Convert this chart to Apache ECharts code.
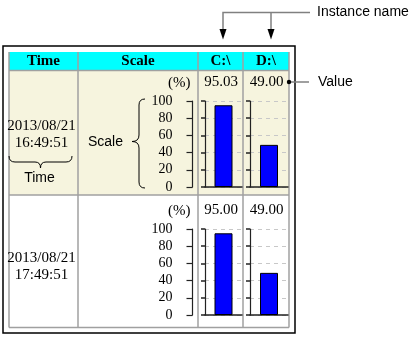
<!DOCTYPE html>
<html>
<head>
<meta charset="utf-8">
<style>
  html, body { margin: 0; padding: 0; background: #ffffff; }
  #chart { width: 413px; height: 337px; }
</style>
<script src="https://cdn.jsdelivr.net/npm/echarts@6/dist/echarts.min.js"></script>
</head>
<body>
<div id="chart"></div>
<script>
// Column headers and per-instance readings
const headers = ['Time', 'Scale'];
const instances = ['C:\\', 'D:\\'];
const dates = ['2013/08/21', '2013/08/21'];
const clocks = ['16:49:51', '17:49:51'];
const usageRow1 = [95.03, 49.00];
const usageRow2 = [95.00, 49.00];
const rows = [usageRow1, usageRow2];
const scaleUnit = '(%)';
const scaleMin = 0;
const scaleMax = 100;
const scaleStep = 20;

const chart = echarts.init(document.getElementById('chart'), null, { renderer: 'canvas' });

const serif = '"Liberation Serif", "Times New Roman", serif';
const sans = '"Liberation Sans", Arial, sans-serif';

// Table layout
const colX = [9, 78, 198, 243, 289];
const headerTop = 52, headerBottom = 70.5;
const rowBounds = [[70.5, 195], [195, 327.5]];
const axisTop = [101, 229];
const axisH = 86;
const barCols = [[205, 37], [250, 38]];

const grids = [], xAxes = [], yAxes = [], series = [];

function addGrid(left, top, width, height) {
  grids.push({ left: left, top: top, width: width, height: height, containLabel: false });
  return grids.length - 1;
}

rows.forEach(function (vals, r) {
  // Scale column axis with tick labels
  const gi = addGrid(192.5, axisTop[r], 1, axisH);
  xAxes.push({ gridIndex: gi, type: 'value', show: false, min: 0, max: 1 });
  yAxes.push({
    gridIndex: gi, type: 'value', min: scaleMin, max: scaleMax, interval: scaleStep,
    position: 'left',
    axisLine: { show: true, lineStyle: { color: '#222', width: 1.2 } },
    axisTick: { show: true, inside: false, length: 6, lineStyle: { color: '#222', width: 1.2 } },
    axisLabel: { show: true, margin: 20, color: '#000', fontFamily: serif, fontSize: 14 },
    splitLine: { show: false }
  });
  series.push({
    type: 'scatter', xAxisIndex: xAxes.length - 1, yAxisIndex: yAxes.length - 1,
    data: [], silent: true
  });

  // One bar chart per instance
  vals.forEach(function (v, c) {
    const g = addGrid(barCols[c][0], axisTop[r], barCols[c][1], axisH);
    xAxes.push({
      gridIndex: g, type: 'category', data: [instances[c]],
      axisLine: { show: true, lineStyle: { color: '#222', width: 1.5 } },
      axisTick: { show: false }, axisLabel: { show: false }
    });
    yAxes.push({
      gridIndex: g, type: 'value', min: scaleMin, max: scaleMax, interval: scaleStep,
      axisLine: { show: true, lineStyle: { color: '#222', width: 1.2 } },
      axisTick: { show: true, length: 4, lineStyle: { color: '#222', width: 1.5 } },
      axisLabel: { show: false },
      splitLine: { show: true, lineStyle: { color: '#c8c8c8', type: [4, 4], width: 1 } }
    });
    series.push({
      type: 'bar', xAxisIndex: xAxes.length - 1, yAxisIndex: yAxes.length - 1,
      data: [v], barWidth: 18, silent: true,
      itemStyle: { color: '#0000ff', borderColor: '#000', borderWidth: 1 }
    });
  });
});

// Table frame, headers and annotations
const graphics = [];
graphics.push({ type: 'rect', shape: { x: 3, y: 46, width: 292, height: 287 },
  style: { fill: '#fff', stroke: '#000', lineWidth: 1.5 }, z: -10 });
graphics.push({ type: 'rect', shape: { x: colX[0], y: headerTop, width: colX[4] - colX[0], height: headerBottom - headerTop },
  style: { fill: '#00ffff' }, z: -9 });
graphics.push({ type: 'rect', shape: { x: colX[0], y: rowBounds[0][0], width: colX[4] - colX[0], height: rowBounds[0][1] - rowBounds[0][0] },
  style: { fill: '#f6f4de' }, z: -9 });

// grid lines of the table
[headerBottom, rowBounds[0][1], rowBounds[1][1]].forEach(function (y) {
  graphics.push({ type: 'line', shape: { x1: colX[0], y1: y, x2: colX[4], y2: y },
    style: { stroke: '#a0a0a0', lineWidth: 1.5 }, z: -8 });
});
colX.forEach(function (x) {
  graphics.push({ type: 'line', shape: { x1: x, y1: headerTop, x2: x, y2: rowBounds[1][1] },
    style: { stroke: '#a0a0a0', lineWidth: 1.5 }, z: -8 });
});

const headerLabels = headers.concat(instances);
headerLabels.forEach(function (h, i) {
  graphics.push({ type: 'text', x: (colX[i] + colX[i + 1]) / 2, y: 61.5,
    style: { text: h, fill: '#000', font: 'bold 15px ' + serif, align: 'center', verticalAlign: 'middle' } });
});

rows.forEach(function (vals, r) {
  graphics.push({ type: 'text', x: 190.5, y: axisTop[r] - 18,
    style: { text: scaleUnit, fill: '#000', font: '15px ' + serif, align: 'right', verticalAlign: 'middle' } });
  vals.forEach(function (v, c) {
    graphics.push({ type: 'text', x: (colX[c + 2] + colX[c + 3]) / 2 + 0.5, y: axisTop[r] - 19,
      style: { text: v.toFixed(2), fill: '#000', font: '15px ' + serif, align: 'center', verticalAlign: 'middle' } });
  });
  const cy = r === 0 ? 126 : 258;
  graphics.push({ type: 'text', x: 41.5, y: cy,
    style: { text: dates[r], fill: '#000', font: '15px ' + serif, align: 'center', verticalAlign: 'middle' } });
  graphics.push({ type: 'text', x: 41.5, y: cy + 17,
    style: { text: clocks[r], fill: '#000', font: '15px ' + serif, align: 'center', verticalAlign: 'middle' } });
});

// curly brace made of quadratic curves and straight runs
function curve(x1, y1, cx, cy, x2, y2) {
  graphics.push({ type: 'bezierCurve', shape: { x1: x1, y1: y1, cpx1: cx, cpy1: cy, x2: x2, y2: y2 },
    style: { fill: null, stroke: '#000', lineWidth: 1 } });
}
function seg(x1, y1, x2, y2) {
  graphics.push({ type: 'line', shape: { x1: x1, y1: y1, x2: x2, y2: y2 },
    style: { stroke: '#000', lineWidth: 1 } });
}

// brace under the time stamp
curve(9, 156, 9, 162, 15, 162);
seg(15, 162, 35, 162);
curve(35, 162, 40.5, 162, 40.5, 168);
curve(40.5, 168, 40.5, 162, 46, 162);
seg(46, 162, 66, 162);
curve(66, 162, 72, 162, 72, 156);
graphics.push({ type: 'text', x: 39.5, y: 178.5,
  style: { text: 'Time', fill: '#000', font: '14px ' + sans, align: 'center', verticalAlign: 'middle' } });

// brace beside the scale
curve(145, 99, 139, 99, 139, 105);
seg(139, 105, 139, 135);
curve(139, 135, 139, 141.5, 132, 141.5);
curve(132, 141.5, 139, 141.5, 139, 148);
seg(139, 148, 139, 182);
curve(139, 182, 139, 188, 145, 188);
graphics.push({ type: 'text', x: 105.5, y: 142,
  style: { text: 'Scale', fill: '#000', font: '14px ' + sans, align: 'center', verticalAlign: 'middle' } });

// instance name callout
graphics.push({ type: 'polyline', shape: { points: [[223, 30], [223, 12.5], [310, 12.5]] },
  style: { fill: null, stroke: '#808080', lineWidth: 1.5 } });
graphics.push({ type: 'line', shape: { x1: 271, y1: 12.5, x2: 271, y2: 30 },
  style: { stroke: '#808080', lineWidth: 1.5 } });
[223, 271].forEach(function (x) {
  graphics.push({ type: 'polygon', shape: { points: [[x - 3.5, 29], [x + 3.5, 29], [x, 39.5]] },
    style: { fill: '#000' } });
});
graphics.push({ type: 'text', x: 317, y: 12.5,
  style: { text: 'Instance name', fill: '#000', font: '14px ' + sans, align: 'left', verticalAlign: 'middle' } });

// value callout
graphics.push({ type: 'line', shape: { x1: 289, y1: 82, x2: 309, y2: 82 },
  style: { stroke: '#808080', lineWidth: 1.5 } });
graphics.push({ type: 'circle', shape: { cx: 289, cy: 82, r: 2.2 }, style: { fill: '#000' } });
graphics.push({ type: 'text', x: 318, y: 82,
  style: { text: 'Value', fill: '#000', font: '14px ' + sans, align: 'left', verticalAlign: 'middle' } });

chart.setOption({
  animation: false,
  backgroundColor: '#ffffff',
  grid: grids,
  xAxis: xAxes,
  yAxis: yAxes,
  series: series,
  graphic: { elements: graphics }
});
</script>
</body>
</html>
